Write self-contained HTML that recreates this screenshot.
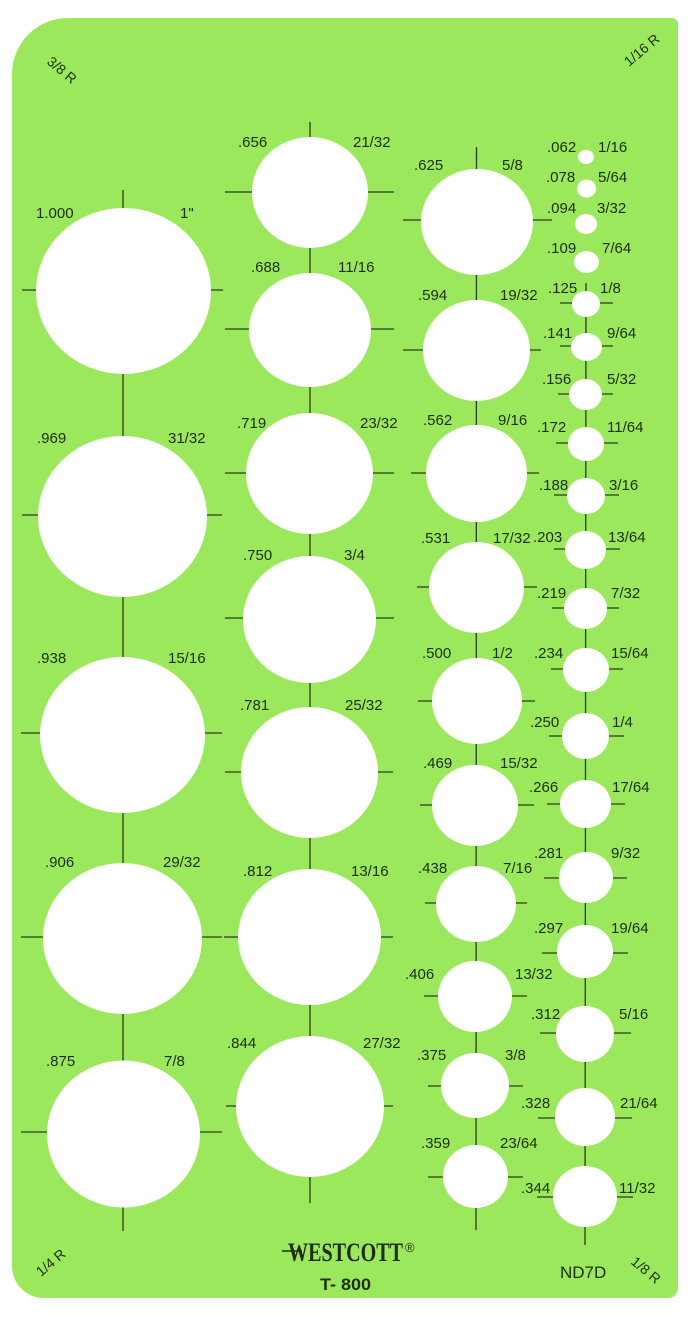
<!DOCTYPE html>
<html><head><meta charset="utf-8"><style>
html,body{margin:0;padding:0;background:#fff;}
svg{display:block;}
text{font-family:"Liberation Sans",sans-serif;fill:#1f2d15;}
</style></head><body>
<svg width="690" height="1317" viewBox="0 0 690 1317" xmlns="http://www.w3.org/2000/svg">
<rect width="690" height="1317" fill="#ffffff"/>
<path d="M68,18 H672 A6,6 0 0 1 678,24 V1288 A10,10 0 0 1 668,1298 H44 A32,32 0 0 1 12,1266 V74 A56,56 0 0 1 68,18 Z" fill="#9be85c"/>
<g stroke="#2c3b20" stroke-width="1.3" fill="none">
<line x1="123" y1="190" x2="123" y2="1231"/>
<line x1="310" y1="122" x2="310" y2="1203"/>
<line x1="476.5" y1="147" x2="476" y2="1230"/>
<line x1="586" y1="283" x2="585" y2="1245"/>
<line x1="22" y1="290" x2="223" y2="290"/>
<line x1="22" y1="515" x2="222" y2="515"/>
<line x1="21" y1="733" x2="222" y2="733"/>
<line x1="21" y1="937" x2="222" y2="937"/>
<line x1="21" y1="1132" x2="222" y2="1132"/>
<line x1="225" y1="192" x2="394" y2="192"/>
<line x1="225" y1="329" x2="394" y2="329"/>
<line x1="225" y1="473" x2="394" y2="473"/>
<line x1="225" y1="618" x2="394" y2="618"/>
<line x1="225" y1="772" x2="393" y2="772"/>
<line x1="224" y1="937" x2="393" y2="937"/>
<line x1="226" y1="1106" x2="393" y2="1106"/>
<line x1="403" y1="220" x2="552" y2="220"/>
<line x1="403" y1="350" x2="541" y2="350"/>
<line x1="411" y1="473" x2="539" y2="473"/>
<line x1="417" y1="587" x2="537" y2="587"/>
<line x1="418" y1="701" x2="535" y2="701"/>
<line x1="420" y1="805" x2="534" y2="805"/>
<line x1="425" y1="903" x2="527" y2="903"/>
<line x1="424" y1="996" x2="527" y2="996"/>
<line x1="428" y1="1086" x2="523" y2="1086"/>
<line x1="428" y1="1177" x2="523" y2="1177"/>
<line x1="560" y1="303" x2="613" y2="303"/>
<line x1="560" y1="346" x2="613" y2="346"/>
<line x1="558" y1="394" x2="613" y2="394"/>
<line x1="556" y1="443" x2="618" y2="443"/>
<line x1="554" y1="495" x2="619" y2="495"/>
<line x1="554" y1="549" x2="620" y2="549"/>
<line x1="552" y1="608" x2="619" y2="608"/>
<line x1="551" y1="669" x2="623" y2="669"/>
<line x1="549" y1="736" x2="624" y2="736"/>
<line x1="547" y1="804" x2="625" y2="804"/>
<line x1="544" y1="878" x2="627" y2="878"/>
<line x1="542" y1="953" x2="628" y2="953"/>
<line x1="540" y1="1033" x2="631" y2="1033"/>
<line x1="538" y1="1118" x2="632" y2="1118"/>
<line x1="537" y1="1197" x2="633" y2="1197"/>
</g>
<g fill="#ffffff">
<ellipse cx="123.5" cy="291" rx="87.5" ry="83"/>
<ellipse cx="122.5" cy="516.5" rx="84.5" ry="80.5"/>
<ellipse cx="122.5" cy="735" rx="82.5" ry="78"/>
<ellipse cx="122.5" cy="938.5" rx="79.5" ry="75.5"/>
<ellipse cx="123.5" cy="1134" rx="76.5" ry="73.5"/>
<ellipse cx="310" cy="192.5" rx="58" ry="55.5"/>
<ellipse cx="310" cy="330" rx="61" ry="57"/>
<ellipse cx="309.5" cy="473.5" rx="63.5" ry="60.5"/>
<ellipse cx="309.5" cy="619.5" rx="66.5" ry="63.5"/>
<ellipse cx="309.5" cy="772.5" rx="68.5" ry="65.5"/>
<ellipse cx="309.5" cy="937" rx="71.5" ry="68"/>
<ellipse cx="310" cy="1106.5" rx="74" ry="70.5"/>
<ellipse cx="477" cy="222" rx="56" ry="53"/>
<ellipse cx="476.5" cy="350.5" rx="53.5" ry="50.5"/>
<ellipse cx="476.5" cy="473.5" rx="50.5" ry="48.5"/>
<ellipse cx="476.5" cy="587.5" rx="47.5" ry="45.5"/>
<ellipse cx="477" cy="701" rx="45" ry="43"/>
<ellipse cx="475" cy="805.5" rx="43" ry="40.5"/>
<ellipse cx="476" cy="904" rx="40" ry="38"/>
<ellipse cx="475" cy="996.5" rx="37" ry="35.5"/>
<ellipse cx="475" cy="1085.5" rx="34" ry="32.5"/>
<ellipse cx="475.5" cy="1176.5" rx="32.5" ry="31.5"/>
<ellipse cx="586" cy="157" rx="8" ry="7"/>
<ellipse cx="586.5" cy="188.5" rx="9.5" ry="9"/>
<ellipse cx="586" cy="224" rx="11" ry="10"/>
<ellipse cx="586.5" cy="262" rx="12.5" ry="11"/>
<ellipse cx="586" cy="304" rx="14" ry="13"/>
<ellipse cx="586.5" cy="347" rx="15.5" ry="14"/>
<ellipse cx="585.5" cy="394.5" rx="16.5" ry="15.5"/>
<ellipse cx="586" cy="444" rx="18" ry="17"/>
<ellipse cx="586" cy="496" rx="19" ry="18"/>
<ellipse cx="585.5" cy="550" rx="20.5" ry="19"/>
<ellipse cx="585.5" cy="608.5" rx="21.5" ry="20.5"/>
<ellipse cx="586" cy="670" rx="23" ry="22"/>
<ellipse cx="585.5" cy="736" rx="23.5" ry="23"/>
<ellipse cx="585.5" cy="804" rx="25.5" ry="24"/>
<ellipse cx="586" cy="877.5" rx="27" ry="25.5"/>
<ellipse cx="585" cy="951.5" rx="28" ry="26.5"/>
<ellipse cx="585" cy="1034" rx="29" ry="28"/>
<ellipse cx="585" cy="1117" rx="30" ry="29"/>
<ellipse cx="585" cy="1196.5" rx="32" ry="30.5"/>
</g>
<g font-size="15">
<text x="36" y="218">1.000</text><text x="180" y="218">1&quot;</text>
<text x="37" y="443">.969</text><text x="168" y="443">31/32</text>
<text x="37" y="663">.938</text><text x="168" y="663">15/16</text>
<text x="45" y="867">.906</text><text x="163" y="867">29/32</text>
<text x="46" y="1066">.875</text><text x="164" y="1066">7/8</text>
<text x="238" y="147">.656</text><text x="353" y="147">21/32</text>
<text x="251" y="272">.688</text><text x="338" y="272">11/16</text>
<text x="237" y="428">.719</text><text x="360" y="428">23/32</text>
<text x="243" y="560">.750</text><text x="344" y="560">3/4</text>
<text x="240" y="710">.781</text><text x="345" y="710">25/32</text>
<text x="243" y="876">.812</text><text x="351" y="876">13/16</text>
<text x="227" y="1048">.844</text><text x="363" y="1048">27/32</text>
<text x="414" y="170">.625</text><text x="502" y="170">5/8</text>
<text x="418" y="300">.594</text><text x="500" y="300">19/32</text>
<text x="423" y="425">.562</text><text x="498" y="425">9/16</text>
<text x="421" y="543">.531</text><text x="493" y="543">17/32</text>
<text x="422" y="658">.500</text><text x="492" y="658">1/2</text>
<text x="423" y="768">.469</text><text x="500" y="768">15/32</text>
<text x="418" y="873">.438</text><text x="503" y="873">7/16</text>
<text x="405" y="979">.406</text><text x="515" y="979">13/32</text>
<text x="417" y="1060">.375</text><text x="505" y="1060">3/8</text>
<text x="421" y="1148">.359</text><text x="500" y="1148">23/64</text>
<text x="547" y="152">.062</text><text x="598" y="152">1/16</text>
<text x="546" y="182">.078</text><text x="598" y="182">5/64</text>
<text x="547" y="213">.094</text><text x="597" y="213">3/32</text>
<text x="547" y="253">.109</text><text x="602" y="253">7/64</text>
<text x="548" y="293">.125</text><text x="600" y="293">1/8</text>
<text x="543" y="338">.141</text><text x="607" y="338">9/64</text>
<text x="542" y="384">.156</text><text x="607" y="384">5/32</text>
<text x="537" y="432">.172</text><text x="607" y="432">11/64</text>
<text x="539" y="490">.188</text><text x="609" y="490">3/16</text>
<text x="533" y="542">.203</text><text x="608" y="542">13/64</text>
<text x="537" y="598">.219</text><text x="611" y="598">7/32</text>
<text x="534" y="658">.234</text><text x="611" y="658">15/64</text>
<text x="530" y="727">.250</text><text x="612" y="727">1/4</text>
<text x="529" y="792">.266</text><text x="612" y="792">17/64</text>
<text x="534" y="858">.281</text><text x="611" y="858">9/32</text>
<text x="534" y="933">.297</text><text x="611" y="933">19/64</text>
<text x="531" y="1019">.312</text><text x="619" y="1019">5/16</text>
<text x="521" y="1108">.328</text><text x="620" y="1108">21/64</text>
<text x="521" y="1193">.344</text><text x="619" y="1193">11/32</text>
</g>
<g font-size="14">
<text transform="translate(46,63) rotate(40)">3/8 R</text>
<text transform="translate(629,67) rotate(-40)">1/16 R</text>
<text transform="translate(41,1277) rotate(-40)">1/4 R</text>
<text transform="translate(630,1263) rotate(40)">1/8 R</text>
</g>
<text x="288" y="1261" font-size="26" font-weight="bold" textLength="115" lengthAdjust="spacingAndGlyphs" style="font-family:'Liberation Serif',serif;">WESTCOTT</text>
<line x1="282" y1="1251" x2="302" y2="1251" stroke="#1f2d15" stroke-width="1.6"/>
<text x="405" y="1252" font-size="13">®</text>
<text x="320" y="1290" font-size="17" font-weight="bold" textLength="51" lengthAdjust="spacingAndGlyphs">T- 800</text>
<text x="560" y="1278" font-size="17">ND7D</text>
</svg>
</body></html>
